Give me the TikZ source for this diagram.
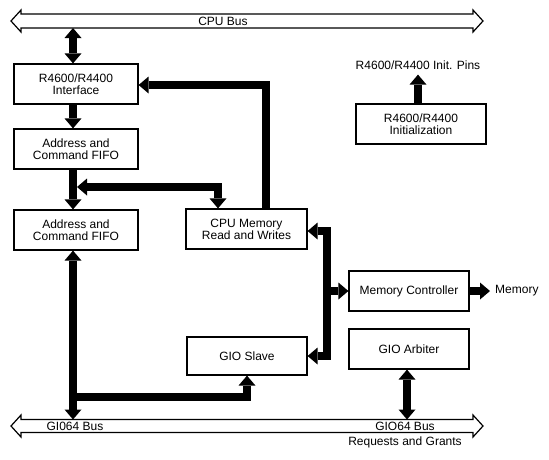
\documentclass[tikz,border=0pt]{standalone}
\usepackage{fontspec}
\setmainfont{Liberation Sans}
\usetikzlibrary{arrows.meta}
\begin{document}
\begin{tikzpicture}[x=1pt,y=-1pt,
  every node/.style={font=\fontsize{12}{12}\selectfont},
  box/.style={draw,line width=1.2pt,fill=white,minimum width=124pt,minimum height=40pt,inner sep=0pt,align=center},
  txt/.style={inner sep=0pt},
  bus/.style={draw,line width=1.2pt,fill=white,line join=miter},
  fat/.style={line width=8pt,>={Triangle[width=17pt,length=10pt,line width=0pt]}},
]
\useasboundingbox (0,0) rectangle (549,459);
% buses
\draw[bus] (11,21) -- (21,10) -- (21,14) -- (473,14) -- (473,10) -- (483,21) -- (473,32) -- (473,28) -- (21,28) -- (21,32) -- cycle;
\draw[bus] (11,426) -- (21,415) -- (21,419.5) -- (473,419.5) -- (473,415) -- (483,426) -- (473,437) -- (473,432.5) -- (21,432.5) -- (21,437) -- cycle;
% boxes
\node[box] (iface) at (76,84) {R4600/R4400\\Interface};
\node[box] (fifoA) at (76,149) {Address and\\Command FIFO};
\node[box] (fifoB) at (76,230) {Address and\\Command FIFO};
\node[box,minimum width=121pt] (cpumem) at (246.5,229) {CPU Memory\\Read and Writes};
\node[box,minimum width=120pt] (memctl) at (409,291) {Memory Controller};
\node[box,minimum width=120pt] (arb) at (409,349) {GIO Arbiter};
\node[box,minimum width=120pt,minimum height=38pt] (slave) at (247,356) {GIO Slave};
\node[box,minimum width=130pt] (init) at (421,124) {R4600/R4400\\Initialization};
% labels
\node[txt] (cpulbl) at (223,21) {CPU Bus};
\node[txt] (pins) at (418,65) {R4600/R4400 Init. Pins};
\node[txt,anchor=west] (mem) at (495,291) {Memory};
\node[txt] (gioL) at (75,426.5) {GI064 Bus};
\node[txt] (gioR) at (405,426.5) {GIO64 Bus};
\node[txt] (req) at (405,442) {Requests and Grants};
% coordinates
\coordinate (cpuB) at (73,28);
\coordinate (gioT1) at (73,419.5);
\coordinate (gioT2) at (407,419.5);
\coordinate (j1) at (77,187);
\coordinate (k1) at (218,187);
\coordinate (k2) at (266,85);
\coordinate (j2) at (73,397);
\coordinate (k3) at (247,397);
\coordinate (k4) at (327,231);
\coordinate (k5) at (327,356);
\coordinate (j3) at (327,291);
% connectors
\draw[fat,<->] (cpuB) -- (cpuB |- iface.north);
\draw[fat,->] (cpuB |- iface.south) -- (cpuB |- fifoA.north);
\draw[fat,->] (cpuB |- fifoA.south) -- (cpuB |- fifoB.north);
\draw[fat,<->] (j1) -- (k1) -- (k1 |- cpumem.north);
\draw[fat,->] (k2 |- cpumem.north) -- (k2) -- (k2 -| iface.east);
\draw[fat,<->] (cpuB |- fifoB.south) -- (gioT1);
\draw[fat,->] (j2) -- (k3) -- (k3 |- slave.south);
\draw[fat,<->] (k4 -| cpumem.east) -- (k4) -- (k5) -- (k5 -| slave.east);
\draw[fat,->] (j3) -- (j3 -| memctl.west);
\draw[fat,->] (memctl.east) -- ([xshift=-5pt]mem.west);
\draw[fat,<->] (gioT2 |- arb.south) -- (gioT2);
\draw[fat,->] (pins.south |- init.north) -- ([yshift=-5pt]pins.south);
\end{tikzpicture}
\end{document}
